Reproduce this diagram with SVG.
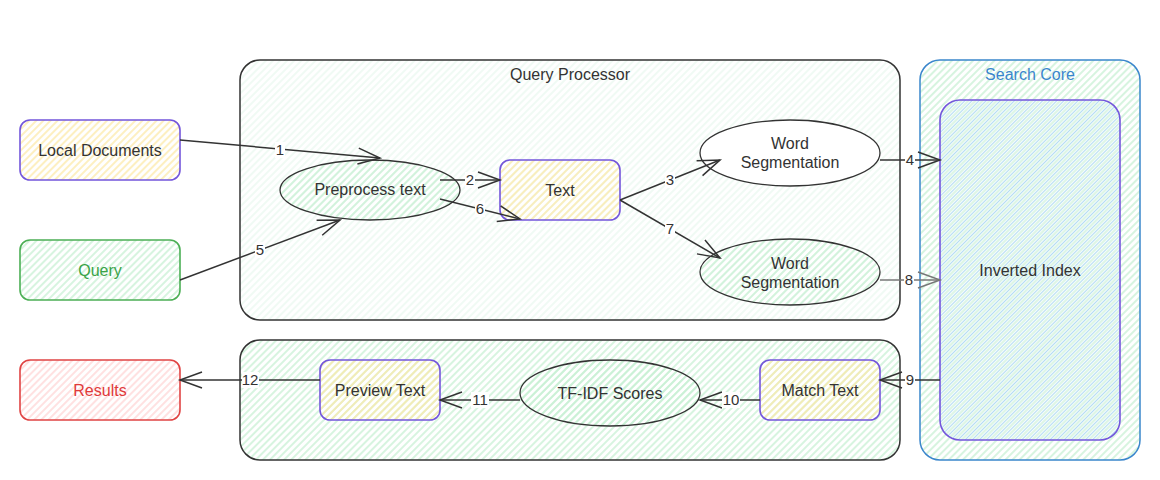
<svg xmlns="http://www.w3.org/2000/svg" width="1160" height="480" viewBox="0 0 1160 480">
<style>
text{font-family:"Liberation Sans",Arial,sans-serif;font-size:16px;fill:#333;text-anchor:middle}
.lbl{font-size:15px;fill:#333}
.edge{fill:none;stroke:#333;stroke-width:1.5}
.edge.gray{stroke:#777}
.lb{fill:#fff}
.purple{stroke:#7356db;stroke-width:1.6}
</style>
<defs>
<pattern id="hy" width="5" height="5" patternUnits="userSpaceOnUse" patternTransform="rotate(45)"><line x1="1" y1="0" x2="1" y2="5" stroke="#fde9a6" stroke-width="1.4"/></pattern>
<pattern id="hg" width="5" height="5" patternUnits="userSpaceOnUse" patternTransform="rotate(45)"><line x1="1" y1="0" x2="1" y2="5" stroke="#c6f0d2" stroke-width="1.4"/></pattern>
<pattern id="hgl" width="5" height="5" patternUnits="userSpaceOnUse" patternTransform="rotate(45)"><line x1="1" y1="0" x2="1" y2="5" stroke="#e8f8ee" stroke-width="1.3"/></pattern>
<pattern id="hr" width="5" height="5" patternUnits="userSpaceOnUse" patternTransform="rotate(45)"><line x1="1" y1="0" x2="1" y2="5" stroke="#ffd4d4" stroke-width="1.4"/></pattern>
<pattern id="hgb" width="5" height="5" patternUnits="userSpaceOnUse" patternTransform="rotate(45)"><line x1="1" y1="0" x2="1" y2="5" stroke="#c6f0d2" stroke-width="1.2"/><line x1="3.5" y1="0" x2="3.5" y2="5" stroke="#b4def2" stroke-width="1.3"/></pattern>
<marker id="ah" markerUnits="userSpaceOnUse" markerWidth="26" markerHeight="20" refX="23" refY="9" orient="auto"><path d="M1,1 L23,9 L1,17" fill="none" stroke="#333" stroke-width="1.5"/></marker>
<marker id="ahg" markerUnits="userSpaceOnUse" markerWidth="26" markerHeight="20" refX="23" refY="9" orient="auto"><path d="M1,1 L23,9 L1,17" fill="none" stroke="#777" stroke-width="1.5"/></marker>
</defs>
<rect width="1160" height="480" fill="#fff"/>

<g id="query-processor">
<rect x="240" y="60" width="660" height="260" rx="20" fill="url(#hgl)" stroke="#333" stroke-width="1.5"/>
<text x="570" y="80">Query Processor</text>
</g>
<g id="ranking-group">
<rect x="240" y="340" width="660" height="120" rx="20" fill="url(#hg)" stroke="#333" stroke-width="1.5"/>
</g>
<g id="search-core">
<rect x="920" y="60" width="220" height="400" rx="20" fill="url(#hg)" stroke="#3a86cc" stroke-width="1.5"/>
<text x="1030" y="80" style="fill:#3a86cc">Search Core</text>
</g>
<g id="inverted-index">
<rect x="940" y="100" width="180" height="340" rx="20" fill="#fff"/>
<rect x="940" y="100" width="180" height="340" rx="20" fill="url(#hgb)" class="purple"/>
<text x="1030" y="276">Inverted Index</text>
</g>

<g id="local-documents">
<rect x="20" y="120" width="160" height="60" rx="10" fill="url(#hy)" class="purple"/>
<text x="100" y="156">Local Documents</text>
</g>
<g id="query">
<rect x="20" y="240" width="160" height="60" rx="10" fill="url(#hg)" stroke="#4caf55" stroke-width="1.6"/>
<text x="100" y="276" style="fill:#3aa347">Query</text>
</g>
<g id="results">
<rect x="20" y="360" width="160" height="60" rx="10" fill="url(#hr)" stroke="#e04444" stroke-width="1.6"/>
<text x="100" y="396" style="fill:#e03a3a">Results</text>
</g>
<g id="preprocess-text">
<ellipse cx="370" cy="190" rx="90" ry="30" fill="url(#hg)" stroke="#333" stroke-width="1.3"/>
<text x="370" y="195">Preprocess text</text>
</g>
<g id="text">
<rect x="500" y="160" width="120" height="60" rx="10" fill="url(#hy)" class="purple"/>
<text x="560" y="196">Text</text>
</g>
<g id="word-seg-1">
<ellipse cx="790" cy="153" rx="90" ry="33" fill="#fff" stroke="#333" stroke-width="1.3"/>
<text x="790" y="149">Word</text>
<text x="790" y="168">Segmentation</text>
</g>
<g id="word-seg-2">
<ellipse cx="790" cy="272" rx="90" ry="33" fill="url(#hg)" stroke="#333" stroke-width="1.3"/>
<text x="790" y="269">Word</text>
<text x="790" y="288">Segmentation</text>
</g>
<g id="preview-text">
<rect x="320" y="360" width="120" height="60" rx="10" fill="url(#hy)" class="purple"/>
<text x="380" y="396">Preview Text</text>
</g>
<g id="tf-idf">
<ellipse cx="610" cy="393" rx="90" ry="33" fill="url(#hg)" stroke="#333" stroke-width="1.3"/>
<text x="610" y="399">TF-IDF Scores</text>
</g>
<g id="match-text">
<rect x="760" y="360" width="120" height="60" rx="10" fill="url(#hy)" class="purple"/>
<text x="820" y="396">Match Text</text>
</g>

<g id="connectors">
<path class="edge" d="M180,140 L380,158" marker-end="url(#ah)"/>
<path class="edge" d="M440,180 L500,180" marker-end="url(#ah)"/>
<path class="edge" d="M620,200 L720,160" marker-end="url(#ah)"/>
<path class="edge" d="M880,160 L940,160" marker-end="url(#ah)"/>
<path class="edge" d="M180,280 L340,220" marker-end="url(#ah)"/>
<path class="edge" d="M440,199 L520,219" marker-end="url(#ah)"/>
<path class="edge" d="M620,200 L720,258" marker-end="url(#ah)"/>
<path class="edge gray" d="M880,280 L940,280" marker-end="url(#ahg)"/>
<path class="edge" d="M940,380 L880,380" marker-end="url(#ah)"/>
<path class="edge" d="M760,400 L700,400" marker-end="url(#ah)"/>
<path class="edge" d="M520,400 L440,400" marker-end="url(#ah)"/>
<path class="edge" d="M320,380 L180,380" marker-end="url(#ah)"/>
<g>
<rect class="lb" x="275" y="142" width="10" height="16"/><text class="lbl" x="280" y="155">1</text>
<rect class="lb" x="465" y="172" width="10" height="16"/><text class="lbl" x="470" y="185">2</text>
<rect class="lb" x="665" y="172" width="10" height="16"/><text class="lbl" x="670" y="185">3</text>
<rect class="lb" x="905" y="152" width="10" height="16"/><text class="lbl" x="910" y="165">4</text>
<rect class="lb" x="255" y="242" width="10" height="16"/><text class="lbl" x="260" y="255">5</text>
<rect class="lb" x="475" y="201" width="10" height="16"/><text class="lbl" x="480" y="214">6</text>
<rect class="lb" x="665" y="221" width="10" height="16"/><text class="lbl" x="670" y="234">7</text>
<rect class="lb" x="904" y="272" width="10" height="16"/><text class="lbl" x="909" y="285">8</text>
<rect class="lb" x="905" y="372" width="10" height="16"/><text class="lbl" x="910" y="385">9</text>
<rect class="lb" x="722" y="392" width="18" height="16"/><text class="lbl" x="731" y="405">10</text>
<rect class="lb" x="471" y="392" width="18" height="16"/><text class="lbl" x="480" y="405">11</text>
<rect class="lb" x="242" y="372" width="17" height="16"/><text class="lbl" x="250" y="385">12</text>
</g>
</g>
</svg>
